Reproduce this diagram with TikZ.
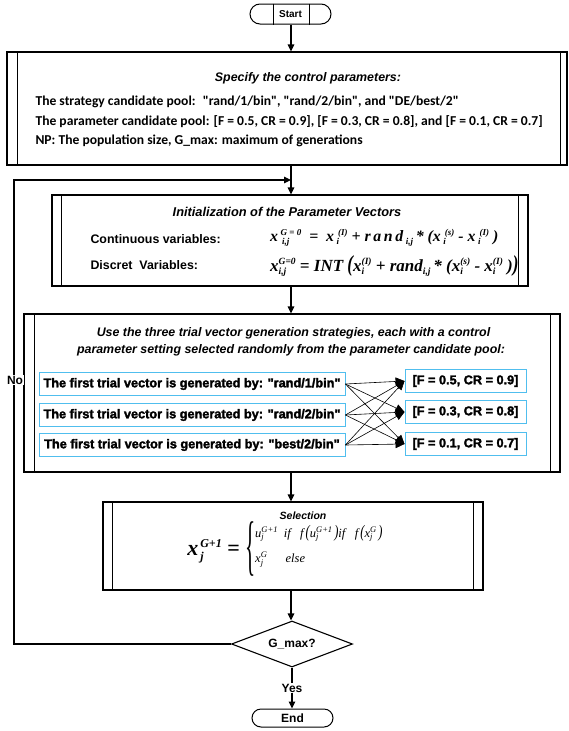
\documentclass[tikz,border=0pt]{standalone}
\usepackage{fontspec}
\setmainfont{Liberation Sans}
\newfontfamily\calib{Carlito}
\newfontfamily\heavy[FakeBold=2.2]{Liberation Sans}
\newfontfamily\tms{Liberation Serif}
\usetikzlibrary{arrows.meta,shapes.geometric,shapes.misc}
\definecolor{cyanb}{RGB}{80,190,238}
\newcommand{\ssup}[3]{\rlap{\raisebox{-0.5ex}{\fontsize{#1}{#1}\selectfont #3}}\raisebox{0.8ex}{\fontsize{#1}{#1}\selectfont #2}}
\newcommand{\ssub}[2]{\raisebox{-0.5ex}{\fontsize{#1}{#1}\selectfont #2}}
\tikzset{
  box/.style={draw=black, line width=1.1pt, inner sep=0pt},
  tbox/.style={draw=cyanb, line width=0.9pt, inner sep=0pt, minimum height=23pt, font=\heavy\bfseries\fontsize{12.7}{14}\selectfont},
  term/.style={draw=black, line width=1pt, rounded rectangle, minimum width=81pt, minimum height=20pt, inner sep=0pt, font=\bfseries\fontsize{10}{12}\selectfont},
  arr/.style={-{Triangle[length=7pt,width=6.5pt]}, line width=1.1pt},
  xarr/.style={-{Triangle[length=9pt,width=8pt]}, line width=0.6pt},
  ln/.style={line width=1.1pt},
  lbl/.style={font=\bfseries\fontsize{12}{14}\selectfont, fill=white, inner sep=1pt},
  eqf/.style={inner sep=0pt, font=\tms\bfseries\itshape},
  ttl/.style={font=\bfseries\itshape\fontsize{12.4}{14}\selectfont},
  cline/.style={anchor=west, font=\calib\bfseries\fontsize{13.6}{15}\selectfont},
  vlab/.style={anchor=west, font=\bfseries\fontsize{12.4}{14}\selectfont}
}
\begin{document}
\begin{tikzpicture}[x=1pt,y=-1pt]
\useasboundingbox (0,0) rectangle (568,731);

% Start
\node[term] (start) at (290.5,14) {Start};
\draw[line width=1pt] ([xshift=13pt]start.north west) -- ([xshift=13pt]start.south west);
\draw[line width=1pt] ([xshift=-12pt]start.north east) -- ([xshift=-12pt]start.south east);

% Box 1
\node[box, minimum width=560pt, minimum height=113pt] (b1) at (287,108.5) {};
\draw[ln] ([xshift=11pt]b1.north west) -- ([xshift=11pt]b1.south west);
\draw[ln] ([xshift=-7pt]b1.north east) -- ([xshift=-7pt]b1.south east);
\node[ttl] (t1) at (308,78) {Specify the control parameters:};
\node[cline] (l1) at (32,102) {The strategy candidate pool:~ "rand/1/bin", "rand/2/bin", and "DE/best/2"};
\node[cline] (l2) at (32,121.5) {The parameter candidate pool: [F = 0.5, CR = 0.9], [F = 0.3, CR = 0.8], and [F = 0.1, CR = 0.7]};
\node[cline] (l3) at (32,141) {NP: The population size, G\_max: maximum of generations};

% Box 2
\node[box, minimum width=476pt, minimum height=91pt] (b2) at (290,240.5) {};
\draw[ln] ([xshift=10pt]b2.north west) -- ([xshift=10pt]b2.south west);
\draw[ln] ([xshift=-10pt]b2.north east) -- ([xshift=-10pt]b2.south east);
\node[ttl, font=\bfseries\itshape\fontsize{12.8}{14}\selectfont] (t2) at (287,212) {Initialization of the Parameter Vectors};
\node[vlab] (c1) at (87,239) {Continuous variables:};
\node[vlab] (c2) at (87,265) {Discret~ Variables:};
\node[eqf, anchor=west] (eqa) at (270,238) {\fontsize{15.8}{17}\selectfont x\,\ssup{9}{G = 0}{\,i,j}\ \ =\ \ x\,\ssup{9}{\,(I)}{i}\ + r\,a\,n\,d\,\ssub{9}{i,j}\,* (x\,\ssup{9}{\,(s)}{i}\ - x\,\ssup{9}{\,(I)}{i}\ )};
\node[eqf, anchor=west] (eqb) at (270,266) {\fontsize{17}{19}\selectfont x\ssup{9.5}{G=0}{i,j} = INT \scalebox{1}[1.35]{(}x\ssup{9.5}{(I)}{i} + rand\ssub{9.5}{i,j}\,* (x\ssup{9.5}{(s)}{i} - x\ssup{9.5}{(I)}{i} )\scalebox{1}[1.35]{)}};

% Box 3
\node[box, minimum width=536pt, minimum height=158pt] (b3) at (292,393) {};
\draw[ln] ([xshift=11pt]b3.north west) -- ([xshift=11pt]b3.south west);
\draw[ln] ([xshift=-10pt]b3.north east) -- ([xshift=-10pt]b3.south east);
\node[ttl] (t3a) at (293.5,333) {Use the three trial vector generation strategies, each with a control};
\node[ttl] (t3b) at (291,350) {parameter setting selected randomly from the parameter candidate pool:};

\node[tbox, minimum width=306pt] (s1) at (192,384) {The first trial vector is generated by: "rand/1/bin"};
\node[tbox, minimum width=306pt] (s2) at (192,415) {The first trial vector is generated by: "rand/2/bin"};
\node[tbox, minimum width=306pt] (s3) at (192,445) {The first trial vector is generated by: "best/2/bin"};
\node[tbox, minimum width=121pt] (p1) at (465.5,381) {[F = 0.5, CR = 0.9]};
\node[tbox, minimum width=121pt] (p2) at (465.5,412) {[F = 0.3, CR = 0.8]};
\node[tbox, minimum width=121pt] (p3) at (465.5,444) {[F = 0.1, CR = 0.7]};
\foreach \s in {s1,s2,s3}{
  \foreach \p in {p1,p2,p3}{
    \draw[xarr] (\s.east) -- (\p.west);
  }
}

% Selection
\node[box, minimum width=380pt, minimum height=88pt] (b4) at (293,546) {};
\draw[ln] ([xshift=10pt]b4.north west) -- ([xshift=10pt]b4.south west);
\draw[ln] ([xshift=-10pt]b4.north east) -- ([xshift=-10pt]b4.south east);
\node[font=\bfseries\itshape\fontsize{10.5}{12}\selectfont] (t4) at (303,516) {Selection};
\node[eqf, anchor=east] (sfl) at (240,551) {\fontsize{22}{24}\selectfont x\ssup{12}{\,G+1}{\,j}\ \upshape =};
\node[inner sep=0pt, font=\tms] (sfb) at (251,549) {\scalebox{0.32}[1]{\fontsize{66}{66}\selectfont\{}};
\node[anchor=west, inner sep=0pt, font=\tms\itshape\fontsize{12.5}{14}\selectfont] (sfc) at (255,546) {\begin{tabular}{@{}l@{}}u\ssup{8.5}{G+1}{j}\ \ if\ \ \ f\,\scalebox{1}[1.4]{(}u\ssup{8.5}{G+1}{j}\,\scalebox{1}[1.4]{)}if\ \ \ f\,\scalebox{1}[1.4]{(}x\ssup{8.5}{G}{j}\,\scalebox{1}[1.4]{)}\\[11pt] x\ssup{8.5}{G}{j}\ \ \ \ \ \ else\end{tabular}};

% Decision
\node[draw=black, line width=1.1pt, diamond, aspect=2.63, minimum width=121pt, minimum height=46pt, inner sep=0pt, font=\bfseries\fontsize{12}{14}\selectfont] (dia) at (292,644) {G\_max?};

% End
\node[term, minimum width=81pt, minimum height=18pt, font=\bfseries\fontsize{12}{14}\selectfont] (end) at (292.5,718) {End};

% Connectors
\coordinate (j) at (291,180);
\coordinate (lpb) at (14,644);
\coordinate (lpt) at (14,180);
\draw[arr] (start.south -| j) -- (j |- b1.north);
\draw[arr] (j |- b1.south) -- (j |- b2.north);
\draw[arr] (lpb -| dia.west) -- (lpb) -- (lpt) -- (j);
\draw[arr] (j |- b2.south) -- (j |- b3.north);
\draw[arr] (j |- b3.south) -- (j |- b4.north);
\draw[arr] (j |- b4.south) -- (j |- dia.north);
\draw[arr] (dia.south) -- (dia.south |- end.north);
\node[lbl] (no) at (15,380) {No};
\node[lbl] (yes) at (292,688) {Yes};
\end{tikzpicture}
\end{document}
